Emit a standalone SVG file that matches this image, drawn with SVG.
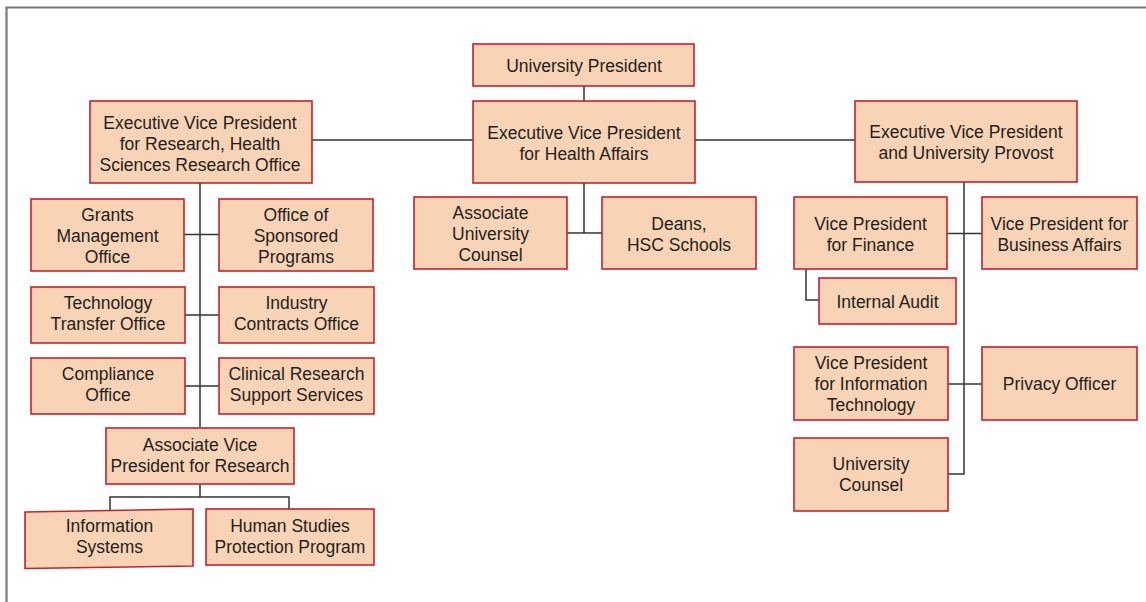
<svg xmlns="http://www.w3.org/2000/svg" width="1146" height="602" viewBox="0 0 1146 602">
<style>
.box{fill:#f8d3b5;stroke:#c8202f;stroke-width:1.6}
.lbl{font-family:"Liberation Sans",Arial,sans-serif;font-size:17.5px;fill:#231f20;text-anchor:middle}
.con{fill:none;stroke:#333;stroke-width:1.5}
</style>
<rect width="1146" height="602" fill="#fff"/>
<path d="M6.5,602 V7.5 H1146" fill="none" stroke="#7a7a7a" stroke-width="2.2"/>
<g id="connectors" class="con">
<path d="M584,86 V101"/>
<path d="M312,140 H473 M695,140 H855"/>
<path d="M584,183 V233 M567,233 H602"/>
<path d="M200,183 V428"/>
<path d="M184,234.5 H219 M185,315 H219 M185,386 H219"/>
<path d="M200,484 V497 M110,510.5 V497 H289 V509"/>
<path d="M964,182 V474 H948"/>
<path d="M947,233.5 H982"/>
<path d="M948,384 H982"/>
<path d="M806,269 V300 H819"/>
</g>
<g id="university-president"><rect class="box" x="473" y="44" width="221" height="42"/><text class="lbl" x="584" y="71.5">University President</text></g>
<g id="evp-health-affairs"><rect class="box" x="473" y="101" width="222" height="82"/><text class="lbl" x="584"><tspan x="584" y="139">Executive Vice President</tspan><tspan x="584" y="160">for Health Affairs</tspan></text></g>
<g id="evp-research"><rect class="box" x="90" y="101" width="222" height="82"/><text class="lbl"><tspan x="200" y="128.5">Executive Vice President</tspan><tspan x="200" y="149.5">for Research, Health</tspan><tspan x="200" y="170.5">Sciences Research Office</tspan></text></g>
<g id="evp-provost"><rect class="box" x="855" y="101" width="222" height="81"/><text class="lbl"><tspan x="966" y="138">Executive Vice President</tspan><tspan x="966" y="159">and University Provost</tspan></text></g>
<g id="assoc-univ-counsel"><rect class="box" x="414" y="197" width="153" height="72"/><text class="lbl"><tspan x="490.5" y="219">Associate</tspan><tspan x="490.5" y="240">University</tspan><tspan x="490.5" y="261">Counsel</tspan></text></g>
<g id="deans"><rect class="box" x="602" y="197" width="154" height="72"/><text class="lbl"><tspan x="679" y="229.5">Deans,</tspan><tspan x="679" y="250.5">HSC Schools</tspan></text></g>
<g id="grants"><rect class="box" x="31" y="199" width="153" height="72"/><text class="lbl"><tspan x="107.5" y="220.5">Grants</tspan><tspan x="107.5" y="241.5">Management</tspan><tspan x="107.5" y="262.5">Office</tspan></text></g>
<g id="sponsored"><rect class="box" x="219" y="199" width="154" height="72"/><text class="lbl"><tspan x="296" y="220.5">Office of</tspan><tspan x="296" y="241.5">Sponsored</tspan><tspan x="296" y="262.5">Programs</tspan></text></g>
<g id="tech-transfer"><rect class="box" x="31" y="287" width="154" height="56"/><text class="lbl"><tspan x="108" y="308.5">Technology</tspan><tspan x="108" y="329.5">Transfer Office</tspan></text></g>
<g id="industry"><rect class="box" x="219" y="287" width="155" height="56"/><text class="lbl"><tspan x="296.5" y="308.5">Industry</tspan><tspan x="296.5" y="329.5">Contracts Office</tspan></text></g>
<g id="compliance"><rect class="box" x="31" y="358" width="154" height="56"/><text class="lbl"><tspan x="108" y="380">Compliance</tspan><tspan x="108" y="401">Office</tspan></text></g>
<g id="clinical"><rect class="box" x="219" y="358" width="155" height="56"/><text class="lbl"><tspan x="296.5" y="380">Clinical Research</tspan><tspan x="296.5" y="401">Support Services</tspan></text></g>
<g id="avp-research"><rect class="box" x="106" y="428" width="188" height="56"/><text class="lbl"><tspan x="200" y="451">Associate Vice</tspan><tspan x="200" y="472">President for Research</tspan></text></g>
<g id="info-systems"><polygon class="box" points="25,512 193,509 193,566 25,568.5"/><text class="lbl"><tspan x="109.5" y="532">Information</tspan><tspan x="109.5" y="553">Systems</tspan></text></g>
<g id="human-studies"><rect class="box" x="206" y="509" width="168" height="56"/><text class="lbl"><tspan x="290" y="532">Human Studies</tspan><tspan x="290" y="553">Protection Program</tspan></text></g>
<g id="vp-finance"><rect class="box" x="794" y="197" width="153" height="72"/><text class="lbl"><tspan x="870.5" y="229.5">Vice President</tspan><tspan x="870.5" y="250.5">for Finance</tspan></text></g>
<g id="vp-business"><rect class="box" x="982" y="197" width="155" height="72"/><text class="lbl"><tspan x="1059.5" y="229.5">Vice President for</tspan><tspan x="1059.5" y="250.5">Business Affairs</tspan></text></g>
<g id="internal-audit"><rect class="box" x="819" y="278" width="137" height="46"/><text class="lbl" x="887.5" y="307.5">Internal Audit</text></g>
<g id="vp-it"><rect class="box" x="794" y="347" width="154" height="73"/><text class="lbl"><tspan x="871" y="368.5">Vice President</tspan><tspan x="871" y="389.5">for Information</tspan><tspan x="871" y="410.5">Technology</tspan></text></g>
<g id="privacy"><rect class="box" x="982" y="347" width="155" height="73"/><text class="lbl" x="1059.5" y="390">Privacy Officer</text></g>
<g id="univ-counsel"><rect class="box" x="794" y="438" width="154" height="73"/><text class="lbl"><tspan x="871" y="470">University</tspan><tspan x="871" y="491">Counsel</tspan></text></g>
</svg>
